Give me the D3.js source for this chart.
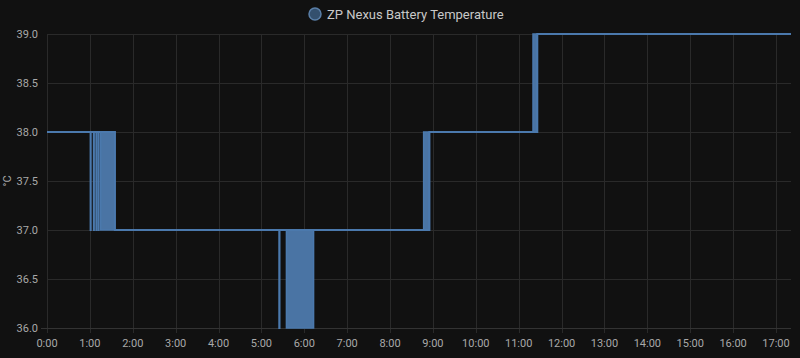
<!DOCTYPE html>
<html>
<head>
<meta charset="utf-8">
<script src="https://cdn.jsdelivr.net/npm/d3@7"></script>
<style>
  html, body { margin: 0; padding: 0; background: #111111; }
  svg { display: block; font-family: Roboto, "Noto Sans", sans-serif; }
</style>
</head>
<body>
<script>
// step series: time of change and the new value (°C)
var stepTimes  = ["0:00", "1:01", "1:01:10", "1:05:30", "1:05:40", "1:09", "1:09:10", "1:12:10", "1:12:20", "1:35", "5:25", "5:25:20", "6:13", "8:55", "11:26", "17:21"];
var stepValues = [38,     37,     38,        37,        38,        37,     38,        37,        38,        37,     36,     37,        37,     38,     39,      39];

// periods where the sensor flapped between two values
var burstStart = ["1:15", "5:35", "8:47", "11:20"];
var burstEnd   = ["1:35", "6:13", "8:55", "11:26"];
var burstLow   = [37, 36, 37, 38];
var burstHigh  = [38, 37, 38, 39];

var yTicks = [36.0, 36.5, 37.0, 37.5, 38.0, 38.5, 39.0];
var seriesName = "ZP Nexus Battery Temperature";
var unit = "°C";

// set the dimensions and margins of the graph
var W = 800, H = 358;
var margin = {top: 34, right: 9, bottom: 30, left: 47},
    width = W - margin.left - margin.right,
    height = H - margin.top - margin.bottom;

var lineColor = "#4b79ad";
var gridColor = "#2a2a2a";
var textColor = "#a9a9a9";

var parseT = function(s) {
    var p = s.split(":");
    return new Date(2020, 0, 1, +p[0], +p[1], +(p[2] || 0));
};

var x = d3.scaleTime()
    .domain([parseT("0:00"), parseT("17:21")])
    .range([0, width]);
var y = d3.scaleLinear().domain([36, 39]).range([height, 0]);

var data = stepTimes.map(function(t, i) { return {t: parseT(t), v: stepValues[i]}; });
var bursts = burstStart.map(function(s, i) {
    return {s: parseT(s), e: parseT(burstEnd[i]), lo: burstLow[i], hi: burstHigh[i]};
});

var root = d3.select("body").append("svg")
    .attr("width", W)
    .attr("height", H);

var svg = root.append("g")
    .attr("transform", "translate(" + margin.left + "," + margin.top + ")");

var hourTicks = d3.timeHour.range(parseT("0:00"), parseT("17:21"));

// grid
svg.append("g")
    .selectAll("line")
    .data(hourTicks)
    .enter()
    .append("line")
    .attr("x1", function(d) { return Math.round(x(d)) + 0.5; })
    .attr("x2", function(d) { return Math.round(x(d)) + 0.5; })
    .attr("y1", 0)
    .attr("y2", height + 5)
    .attr("stroke", gridColor);

svg.append("g")
    .selectAll("line")
    .data(yTicks)
    .enter()
    .append("line")
    .attr("x1", function(d) { return d == 36 ? -6 : 0; })
    .attr("x2", width)
    .attr("y1", function(d) { return Math.round(y(d)) + 0.5; })
    .attr("y2", function(d) { return Math.round(y(d)) + 0.5; })
    .attr("stroke", function(d) { return d == 36 ? "#333" : gridColor; });

// x axis labels
var fmt = d3.timeFormat("%-H:%M");
svg.append("g")
    .selectAll("text")
    .data(hourTicks)
    .enter()
    .append("text")
    .attr("x", function(d) { return x(d); })
    .attr("y", height + 19)
    .attr("text-anchor", "middle")
    .style("font-size", "11px")
    .style("fill", textColor)
    .text(fmt);

// y axis labels
svg.append("g")
    .selectAll("text")
    .data(yTicks)
    .enter()
    .append("text")
    .attr("x", -9)
    .attr("y", function(d) { return y(d) + 4; })
    .attr("text-anchor", "end")
    .style("font-size", "11px")
    .style("fill", textColor)
    .text(function(d) { return d.toFixed(1); });

// y axis title
root.append("text")
    .attr("transform", "translate(11," + (margin.top + height / 2) + ") rotate(-90)")
    .attr("text-anchor", "middle")
    .style("font-size", "11px")
    .style("fill", textColor)
    .text(unit);

// bursts
svg.append("g")
    .selectAll("rect")
    .data(bursts)
    .enter()
    .append("rect")
    .attr("x", function(d) { return x(d.s); })
    .attr("y", function(d) { return y(d.hi); })
    .attr("width", function(d) { return x(d.e) - x(d.s); })
    .attr("height", function(d) { return y(d.lo) - y(d.hi); })
    .attr("fill", "#4a74a4")
    .attr("stroke", lineColor)
    .attr("stroke-width", 1.5);

// the step line
var valueline = d3.line()
    .x(function(d) { return x(d.t); })
    .y(function(d) { return y(d.v); })
    .curve(d3.curveStepAfter);

svg.append("path")
    .datum(data)
    .attr("d", valueline)
    .attr("fill", "none")
    .attr("stroke", lineColor)
    .attr("stroke-width", 2);

// legend
var legend = root.append("g").attr("transform", "translate(315,14)");
legend.append("circle")
    .attr("r", 6)
    .attr("fill", "#34506e")
    .attr("stroke", "#5a7fa8")
    .attr("stroke-width", 1.5);
legend.append("text")
    .attr("x", 12)
    .attr("y", 4.5)
    .style("font-size", "13px")
    .style("fill", "#c8c8c8")
    .text(seriesName);
</script>
</body>
</html>
